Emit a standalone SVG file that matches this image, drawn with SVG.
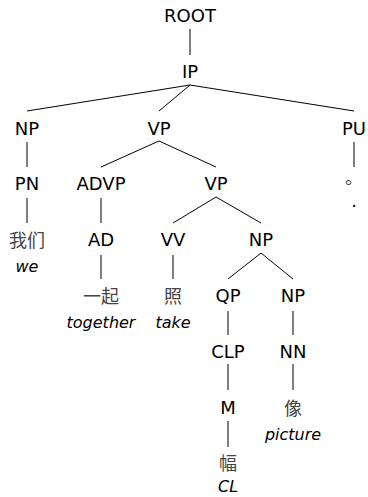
<svg xmlns="http://www.w3.org/2000/svg" width="368" height="497" viewBox="0 0 368 497">
<style>
.l{font-family:"DejaVu Sans","Liberation Sans",sans-serif;font-size:18px;fill:#000;text-anchor:middle}
.z{font-family:"Noto Sans CJK SC",sans-serif;font-size:18px;fill:#444;text-anchor:middle}
.g{font-family:"DejaVu Sans","Liberation Sans",sans-serif;font-size:16px;font-style:italic;fill:#000;text-anchor:middle}
.e{stroke:#000;stroke-width:1;fill:none}
</style>
<rect width="368" height="497" fill="#fff"/>
<g id="edges" class="e">
<line x1="190" y1="29" x2="190" y2="55"/>
<line x1="190" y1="85" x2="27" y2="111"/>
<line x1="190" y1="85" x2="159" y2="111"/>
<line x1="190" y1="85" x2="354" y2="111"/>
<line x1="27" y1="142" x2="27" y2="167"/>
<line x1="159" y1="141" x2="101" y2="167"/>
<line x1="159" y1="141" x2="216" y2="167"/>
<line x1="354" y1="142" x2="354" y2="167"/>
<line x1="27" y1="198" x2="27" y2="223"/>
<line x1="101" y1="198" x2="101" y2="223"/>
<line x1="216" y1="197" x2="173" y2="223"/>
<line x1="216" y1="197" x2="261" y2="223"/>
<line x1="101" y1="255" x2="101" y2="279"/>
<line x1="173" y1="255" x2="173" y2="279"/>
<line x1="261" y1="253" x2="228" y2="279"/>
<line x1="261" y1="253" x2="293" y2="279"/>
<line x1="228" y1="311" x2="228" y2="335"/>
<line x1="293" y1="311" x2="293" y2="335"/>
<line x1="228" y1="364" x2="228" y2="390"/>
<line x1="293" y1="364" x2="293" y2="390"/>
<line x1="228" y1="421" x2="228" y2="447"/>
</g>
<g id="n-root"><text class="l" x="190" y="22">ROOT</text></g>
<g id="n-ip"><text class="l" x="190" y="78">IP</text></g>
<g id="n-np1"><text class="l" x="27" y="135">NP</text></g>
<g id="n-vp1"><text class="l" x="159" y="135">VP</text></g>
<g id="n-pu"><text class="l" x="354" y="135">PU</text></g>
<g id="n-pn"><text class="l" x="27" y="190">PN</text></g>
<g id="n-advp"><text class="l" x="101" y="190">ADVP</text></g>
<g id="n-vp2"><text class="l" x="216" y="190">VP</text></g>
<g id="n-punct"><text class="z" x="354" y="184">。</text><text class="l" x="354" y="207">.</text></g>
<g id="n-women"><text class="z" x="27" y="247">我们</text><text class="g" x="27" y="272">we</text></g>
<g id="n-ad"><text class="l" x="101" y="246">AD</text></g>
<g id="n-vv"><text class="l" x="173" y="246">VV</text></g>
<g id="n-np2"><text class="l" x="261" y="246">NP</text></g>
<g id="n-yiqi"><text class="z" x="101" y="303">一起</text><text class="g" x="101" y="328">together</text></g>
<g id="n-zhao"><text class="z" x="173" y="303">照</text><text class="g" x="173" y="328">take</text></g>
<g id="n-qp"><text class="l" x="228" y="302">QP</text></g>
<g id="n-np3"><text class="l" x="293" y="302">NP</text></g>
<g id="n-clp"><text class="l" x="228" y="358">CLP</text></g>
<g id="n-nn"><text class="l" x="293" y="358">NN</text></g>
<g id="n-m"><text class="l" x="228" y="414">M</text></g>
<g id="n-xiang"><text class="z" x="293" y="415">像</text><text class="g" x="293" y="440">picture</text></g>
<g id="n-fu"><text class="z" x="228" y="470">幅</text><text class="g" x="228" y="492">CL</text></g>
</svg>
